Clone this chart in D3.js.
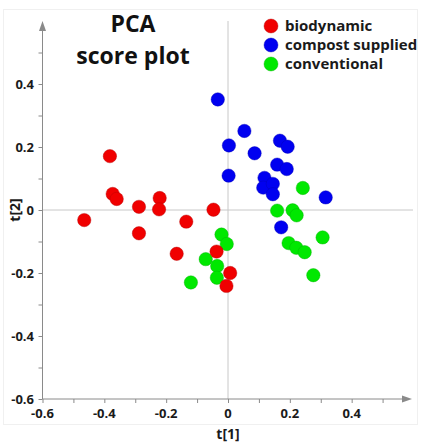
<!DOCTYPE html>
<html>
<head>
<meta charset="utf-8">
<title>PCA score plot</title>
<script src="https://d3js.org/d3.v7.min.js"></script>
<style>
  body { margin: 0; background: #fff; }
  text { font-family: "Open Sans", "Noto Sans", sans-serif; }
</style>
</head>
<body>
<svg id="chart" width="421" height="442"></svg>
<script>
// score values: t[1] and t[2] per group
const groups = ["biodynamic", "compost supplied", "conventional"];
const groupColors = ["#f00000", "#0000f0", "#00e800"];

const bioT1 = [-0.382, -0.373, -0.360, -0.465, -0.288, -0.288, -0.221, -0.223, -0.135, -0.166, -0.047, -0.037, 0.007, -0.005];
const bioT2 = [0.171, 0.051, 0.035, -0.032, 0.010, -0.074, 0.038, 0.002, -0.037, -0.139, 0.001, -0.132, -0.200, -0.241];

const compT1 = [-0.033, 0.053, 0.003, 0.168, 0.193, 0.086, 0.159, 0.190, 0.002, 0.118, 0.114, 0.145, 0.145, 0.316, 0.172];
const compT2 = [0.351, 0.251, 0.205, 0.220, 0.201, 0.180, 0.144, 0.130, 0.109, 0.102, 0.071, 0.083, 0.050, 0.040, -0.055];

const convT1 = [0.242, 0.159, 0.209, 0.222, 0.306, 0.196, 0.221, 0.248, 0.276, -0.021, -0.004, -0.072, -0.035, -0.036, -0.120];
const convT2 = [0.070, -0.002, -0.001, -0.017, -0.087, -0.105, -0.120, -0.134, -0.207, -0.078, -0.108, -0.156, -0.178, -0.215, -0.230];

const xTickLabels = ["-0.6", "-0.4", "-0.2", "0", "0.2", "0.4"];
const yTickLabels = ["-0.6", "-0.4", "-0.2", "0", "0.2", "0.4"];

const svg = d3.select("#chart");

const x = d3.scaleLinear().domain([-0.6, 0.6]).range([42.5, 413.5]);
const y = d3.scaleLinear().domain([-0.6, 0.6]).range([399, 21]);

const axisColor = "#8a8a8a";

// faint frame
svg.append("rect")
  .attr("x", 3.5).attr("y", 9.5).attr("width", 414).attr("height", 415)
  .attr("fill", "none").attr("stroke", "#f0f0f0");

// zero lines
svg.append("line")
  .attr("x1", x(0)).attr("x2", x(0)).attr("y1", 21).attr("y2", y(-0.6))
  .attr("stroke", "#c8c8c8").attr("stroke-width", 1);
svg.append("line")
  .attr("x1", x(-0.6)).attr("x2", 413).attr("y1", y(0)).attr("y2", y(0))
  .attr("stroke", "#c8c8c8").attr("stroke-width", 1);

// x axis
const xAxis = d3.axisBottom(x)
  .tickValues(d3.range(-6, 6).map(d => d / 10))
  .tickSize(4).tickFormat("");
const gx = svg.append("g").attr("transform", `translate(0,${y(-0.6)})`).call(xAxis);
gx.select(".domain").remove();
gx.selectAll(".tick line").attr("stroke", axisColor);
gx.append("line").attr("x1", x(-0.6)).attr("x2", 404).attr("stroke", axisColor);
gx.append("path").attr("d", "M412,0 L402,-3.5 L402,3.5 Z").attr("fill", axisColor);

svg.append("g").selectAll("text").data(xTickLabels).join("text")
  .attr("x", d => x(+d)).attr("y", 418)
  .attr("text-anchor", "middle")
  .attr("font-size", 13).attr("font-weight", 700).attr("fill", "#1a1a1a")
  .text(d => d);

// y axis
const yAxis = d3.axisLeft(y)
  .tickValues(d3.range(-6, 6).map(d => d / 10))
  .tickSize(4).tickFormat("");
const gy = svg.append("g").attr("transform", `translate(${x(-0.6)},0)`).call(yAxis);
gy.select(".domain").remove();
gy.selectAll(".tick line").attr("stroke", axisColor);
gy.append("line").attr("y1", y(-0.6)).attr("y2", 30).attr("stroke", axisColor);
gy.append("path").attr("d", "M0,21 L-3.5,31 L3.5,31 Z").attr("fill", axisColor);

svg.append("g").selectAll("text").data(yTickLabels).join("text")
  .attr("x", 34).attr("y", d => y(+d) + 4.5)
  .attr("text-anchor", "end")
  .attr("font-size", 13).attr("font-weight", 700).attr("fill", "#1a1a1a")
  .text(d => d);

// axis titles
svg.append("text")
  .attr("x", x(0)).attr("y", 439)
  .attr("text-anchor", "middle")
  .attr("font-size", 14).attr("font-weight", 700).attr("fill", "#1a1a1a")
  .text("t[1]");
svg.append("text")
  .attr("transform", `translate(20,${y(0)}) rotate(-90)`)
  .attr("text-anchor", "middle")
  .attr("font-size", 14).attr("font-weight", 700).attr("fill", "#1a1a1a")
  .text("t[2]");

// points
const series = [
  { t1: convT1, t2: convT2, color: groupColors[2] },
  { t1: bioT1, t2: bioT2, color: groupColors[0] },
  { t1: compT1, t2: compT2, color: groupColors[1] }
];
series.forEach(s => {
  svg.append("g").selectAll("circle").data(s.t1).join("circle")
    .attr("cx", d => x(d))
    .attr("cy", (d, i) => y(s.t2[i]))
    .attr("r", 6.7)
    .attr("fill", s.color)
    .attr("stroke", d3.color(s.color).darker(0.8))
    .attr("stroke-opacity", 0.5)
    .attr("stroke-width", 0.8);
});

// title
const title = svg.append("text")
  .attr("text-anchor", "middle")
  .attr("font-size", 23).attr("font-weight", 700).attr("fill", "#111");
title.append("tspan").attr("x", 133).attr("y", 32).text("PCA");
title.append("tspan").attr("x", 133).attr("y", 64).text("score plot");

// legend
const legend = svg.append("g");
groups.forEach((g, i) => {
  legend.append("circle")
    .attr("cx", 271).attr("cy", 26 + i * 19).attr("r", 7)
    .attr("fill", groupColors[i])
    .attr("stroke", d3.color(groupColors[i]).darker(0.8))
    .attr("stroke-opacity", 0.4);
  legend.append("text")
    .attr("x", 285).attr("y", 26 + i * 19 + 5)
    .attr("font-size", 15).attr("font-weight", 700).attr("fill", "#1a1a1a")
    .text(g);
});
</script>
</body>
</html>
